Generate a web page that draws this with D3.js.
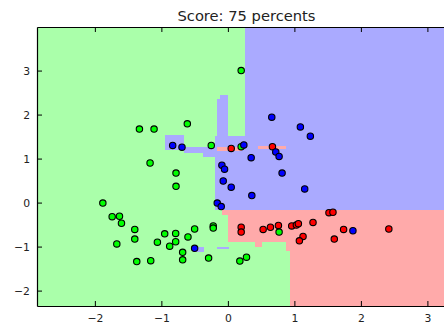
<!DOCTYPE html>
<html>
<head>
<meta charset="utf-8">
<script src="https://cdn.jsdelivr.net/npm/d3@7"></script>
<style>
  body { margin: 0; background: #fff; }
  svg { display: block; font-family: "DejaVu Sans", sans-serif; }
</style>
</head>
<body>
<svg id="chart" width="444" height="325"></svg>
<script>
// ---- data ----
const title = "Score: 75 percents";
const xTicks = [-2, -1, 0, 1, 2, 3];
const yTicks = [-2, -1, 0, 1, 2, 3];
const xDomain = [-2.87, 3.43];
const yDomain = [-2.35, 3.99];

// decision regions, painted over the green background: [x0, x1, y0, y1]
const blueRegions = [
  [0.253, 3.43, -0.166, 3.99],
  [-0.158, -0.003, 1.52, 2.36],
  [-0.123, -0.003, 2.36, 2.45],
  [-0.188, 0.253, -0.166, 1.52],
  [-0.654, -0.188, 1.13, 1.26],
  [-0.94, -0.654, 1.20, 1.54],
  [-0.38, -0.188, 1.03, 1.13],
  [-0.52, -0.36, -1.13, -1.0],
  [-0.16, 0.01, -1.05, -1.02],
  [1.83, 2.17, -1.05, -1.02],
  [1.89, 2.17, -0.70, -0.62],
  [2.17, 3.43, -0.66, -0.62]
];
const redRegions = [
  [0.935, 3.43, -2.35, -0.166],
  [-0.003, 0.935, -0.905, -0.166],
  [0.41, 0.51, -1.02, -0.905],
  [0.88, 0.935, -1.09, -0.905],
  [-0.16, 0.21, 1.18, 1.26],
  [0.46, 0.88, 1.21, 1.29],
  [-0.09, 0.0, -0.28, -0.166]
];

const greenX = [0.20, -1.33, -1.11, -0.61, -0.25, -1.17, -0.78, -0.78, -1.88, -1.74, -1.63,
  -1.60, -1.40, -1.40, -1.67, -1.37, -1.16, -0.95, -1.06, -0.875, -0.785, -0.785, -0.60,
  -0.50, -0.68, -0.68, -0.22, -0.22, -0.29, 0.18, 0.28, 0.77, 0.20];
const greenY = [3.00, 1.67, 1.67, 1.79, 1.30, 0.90, 0.67, 0.37, -0.01, -0.32, -0.31,
  -0.47, -0.61, -0.83, -0.94, -1.34, -1.32, -0.71, -0.90, -0.99, -0.70, -0.89, -0.78,
  -0.60, -1.13, -1.30, -0.53, -0.58, -1.26, -1.33, -1.24, -0.67, 1.27];

const redX = [0.05, 0.67, 0.20, 0.20, 0.53, 0.64, 0.76, 0.96, 1.03, 1.06, 1.28, 1.13, 1.075,
  1.52, 1.58, 1.74, 1.60, 2.42];
const redY = [1.23, 1.27, -0.56, -0.67, -0.61, -0.56, -0.52, -0.53, -0.51, -0.48, -0.45, -0.77, -0.87,
  -0.23, -0.22, -0.61, -0.83, -0.60];

const blueX = [0.24, 0.72, 0.77, 0.66, 1.09, 1.24, 0.35, -0.09, -0.05, -0.07, 0.05, 0.815,
  1.155, 0.36, -0.16, -0.10, -0.83, -0.69, -0.50, 1.88];
const blueY = [1.31, 1.15, 1.05, 1.94, 1.72, 1.51, 1.02, 0.85, 0.76, 0.49, 0.35, 0.67,
  0.31, 0.16, -0.01, -0.09, 1.30, 1.26, -1.04, -0.64];

// ---- layout ----
const plot = { left: 37, right: 456, top: 27, bottom: 306 };
const COLORS = {
  bg: { green: "#aaffaa", blue: "#aaaaff", red: "#ffaaaa" },
  pt: { green: "#00ff00", blue: "#0000ff", red: "#ff0000" }
};

const svg = d3.select("#chart");
const x = d3.scaleLinear().domain(xDomain).range([plot.left, plot.right]);
const y = d3.scaleLinear().domain(yDomain).range([plot.bottom, plot.top]);

// background
svg.append("rect")
  .attr("x", plot.left).attr("y", plot.top)
  .attr("width", plot.right - plot.left).attr("height", plot.bottom - plot.top)
  .attr("fill", COLORS.bg.green);

function drawRegions(list, color) {
  svg.append("g").selectAll("rect")
    .data(list)
    .enter()
    .append("rect")
    .attr("x", d => x(d[0]))
    .attr("y", d => y(d[3]))
    .attr("width", d => x(d[1]) - x(d[0]))
    .attr("height", d => y(d[2]) - y(d[3]))
    .attr("fill", color)
    .attr("shape-rendering", "crispEdges");
}
drawRegions(blueRegions, COLORS.bg.blue);
drawRegions(redRegions, COLORS.bg.red);

function drawPoints(xs, ys, color) {
  svg.append("g").selectAll("circle")
    .data(xs.map((v, i) => [v, ys[i]]))
    .enter()
    .append("circle")
    .attr("cx", d => x(d[0]))
    .attr("cy", d => y(d[1]))
    .attr("r", 3.2)
    .attr("fill", color)
    .attr("stroke", "#000")
    .attr("stroke-width", 1.1);
}
drawPoints(greenX, greenY, COLORS.pt.green);
drawPoints(redX, redY, COLORS.pt.red);
drawPoints(blueX, blueY, COLORS.pt.blue);

// axes, ticks pointing inward (classic matplotlib)
const fmt = d => d < 0 ? "\u2212" + Math.abs(d) : String(d);
const axBottom = svg.append("g")
  .attr("transform", "translate(0," + plot.bottom + ")")
  .call(d3.axisBottom(x).tickValues(xTicks).tickSizeInner(-5).tickSizeOuter(0).tickPadding(8).tickFormat(fmt));
const axTop = svg.append("g")
  .attr("transform", "translate(0," + plot.top + ")")
  .call(d3.axisTop(x).tickValues(xTicks).tickSizeInner(-5).tickSizeOuter(0).tickFormat(""));
const axLeft = svg.append("g")
  .attr("transform", "translate(" + plot.left + ",0)")
  .call(d3.axisLeft(y).tickValues(yTicks).tickSizeInner(-5).tickSizeOuter(0).tickPadding(7).tickFormat(fmt));

[axBottom, axTop, axLeft].forEach(a => {
  a.select(".domain").attr("stroke", "#000").attr("stroke-width", 1.2);
  a.selectAll(".tick line").attr("stroke", "#000");
  a.selectAll("text").attr("font-size", 10.8).attr("fill", "#222").attr("font-family", "DejaVu Sans");
});

// title
svg.append("text")
  .attr("x", (plot.left + plot.right) / 2)
  .attr("y", 21)
  .attr("text-anchor", "middle")
  .attr("font-size", 14.7)
  .attr("fill", "#222")
  .text(title);
</script>
</body>
</html>
